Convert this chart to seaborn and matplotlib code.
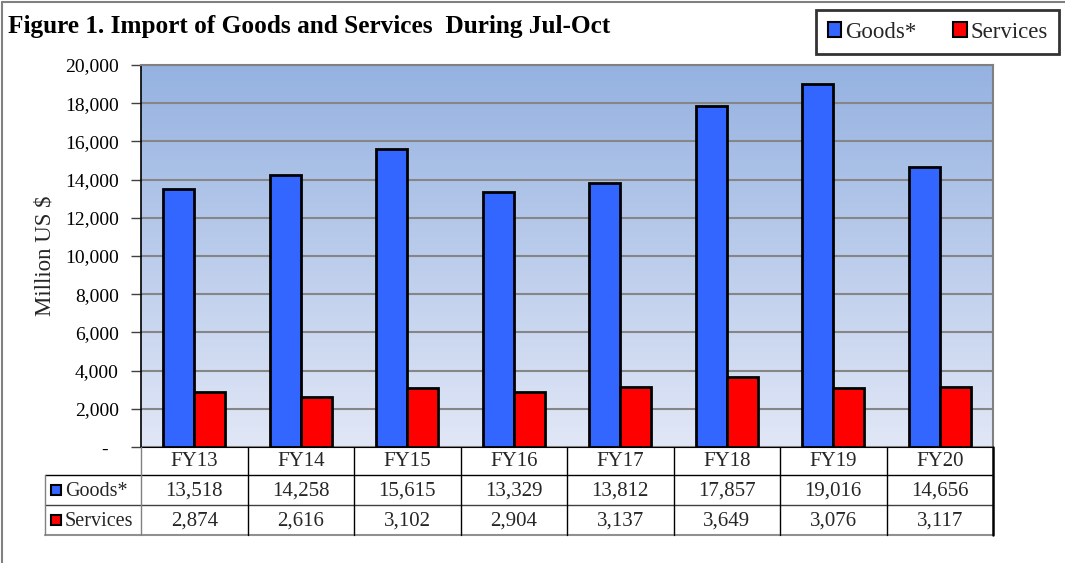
import seaborn as sns
import matplotlib.pyplot as plt
import numpy as np
import pandas as pd
from matplotlib.patches import Rectangle, Patch
from matplotlib.lines import Line2D
from matplotlib.ticker import FuncFormatter

years = ['FY13', 'FY14', 'FY15', 'FY16', 'FY17', 'FY18', 'FY19', 'FY20']
goods = [13518, 14258, 15615, 13329, 13812, 17857, 19016, 14656]
services = [2874, 2616, 3102, 2904, 3137, 3649, 3076, 3117]
series = ['Goods*', 'Services']
colors = ['#3366FF', '#FF0000']

df = pd.DataFrame({
    'year': years * 2,
    'value': goods + services,
    'series': [series[0]] * len(years) + [series[1]] * len(years),
})

sns.set_style('white')
plt.rcParams['font.family'] = ['Liberation Serif', 'DejaVu Serif']

W, H = 1065, 563
fig = plt.figure(figsize=(W / 100, H / 100), dpi=100)


def fx(x):
    return x / W


def fy(y):
    return 1 - y / H


# plot area (pixels of the reference)
L, R, T, B = 141, 993, 65, 447
ax = fig.add_axes([fx(L), fy(B), fx(R) - fx(L), fy(T) - fy(B)])

# gradient background
grad = np.linspace(0, 1, 256).reshape(-1, 1)
top = np.array([149, 178, 225]) / 255
bot = np.array([225, 231, 246]) / 255
img = top[None, None, :] * (1 - grad[:, :, None]) + bot[None, None, :] * grad[:, :, None]
ax.imshow(img, extent=(0, 1, 0, 1), transform=ax.transAxes, aspect='auto', zorder=0)

sns.barplot(data=df, x='year', y='value', hue='series', palette=colors,
            edgecolor='black', linewidth=2, width=0.58, legend=False,
            saturation=1, ax=ax, zorder=3)

ax.set_xlim(-0.5, len(years) - 0.5)
ax.set_ylim(0, 20000)
ax.set_yticks(np.arange(0, 20001, 2000))
ax.yaxis.set_major_formatter(FuncFormatter(lambda v, p: '-  ' if v == 0 else f'{int(v):,}'))
ax.grid(axis='y', color='#868686', linewidth=1.5, zorder=1)
ax.set_xticks([])
ax.set_xlabel('')
ax.set_ylabel('Million US $', fontsize=16.5)
ax.yaxis.set_label_coords((56 - L) / (R - L), 0.5)
ax.tick_params(axis='y', labelsize=14, length=7, width=1, direction='out', left=True,
               color='#404040', labelcolor='black', pad=9)
for s in ['top', 'right']:
    ax.spines[s].set_color('#808080')
    ax.spines[s].set_linewidth(1.5)
ax.spines['left'].set_color('black')
ax.spines['bottom'].set_color('black')
ax.spines['left'].set_linewidth(1.2)

# title
fig.text(fx(8), fy(26), 'Figure 1. Import of Goods and Services  During Jul-Oct',
         fontsize=18.2, fontweight='bold', va='center', ha='left', color='black')

# legend box
handles = [Patch(facecolor=c, edgecolor='black', linewidth=1.5) for c in colors]
leg = fig.legend(handles, series, loc='center', ncol=2, fontsize=16.5,
                 bbox_to_anchor=(fx(812), fy(56), fx(1063) - fx(812), fy(8) - fy(56)),
                 frameon=True, fancybox=False, edgecolor='black', borderaxespad=0,
                 handlelength=0.6, handleheight=0.6, handletextpad=0.15,
                 columnspacing=1.6, borderpad=0.5)
leg.get_frame().set_linewidth(2)

# data table
colw = (R - L) / len(years)
rows_y = [447, 475, 505, 535]
TL = 45


def hline(x0, x1, y, c='black', lw=1):
    fig.add_artist(Line2D([fx(x0), fx(x1)], [fy(y), fy(y)], color=c, lw=lw))


def vline(x, y0, y1, c='black', lw=1):
    fig.add_artist(Line2D([fx(x), fx(x)], [fy(y0), fy(y1)], color=c, lw=lw))


hline(TL, R, rows_y[1])
hline(TL, R, rows_y[2], '#404040')
hline(TL, R, rows_y[3], '#909090', 1.5)
vline(TL, rows_y[1], rows_y[3], '#808080')
for i in range(len(years)):
    vline(L + i * colw, rows_y[0], rows_y[3], '#808080' if i == 0 else 'black')
vline(R, rows_y[0], rows_y[3], 'black', 1.8)

for i, yr in enumerate(years):
    cx = L + (i + 0.5) * colw
    fig.text(fx(cx), fy(462), yr, ha='center', va='center', fontsize=15)
    fig.text(fx(cx), fy(491), f'{goods[i]:,}', ha='center', va='center', fontsize=15)
    fig.text(fx(cx), fy(521), f'{services[i]:,}', ha='center', va='center', fontsize=15)

for j, (name, c) in enumerate(zip(series, colors)):
    cy = (rows_y[j + 1] + rows_y[j + 2]) / 2
    fig.add_artist(Rectangle((fx(51), fy(cy + 5)), fx(10), fy(0) - fy(10),
                             facecolor=c, edgecolor='black', lw=1.5))
    fig.text(fx(65), fy(cy + 1), name, ha='left', va='center', fontsize=14.5)

# outer border (left and top only visible)
fig.add_artist(Line2D([fx(2), fx(2)], [fy(2), fy(H)], color='#808080', lw=1.5))
fig.add_artist(Line2D([fx(2), fx(W)], [fy(2), fy(2)], color='#808080', lw=1.5))

plt.savefig('out.png', dpi=100)
